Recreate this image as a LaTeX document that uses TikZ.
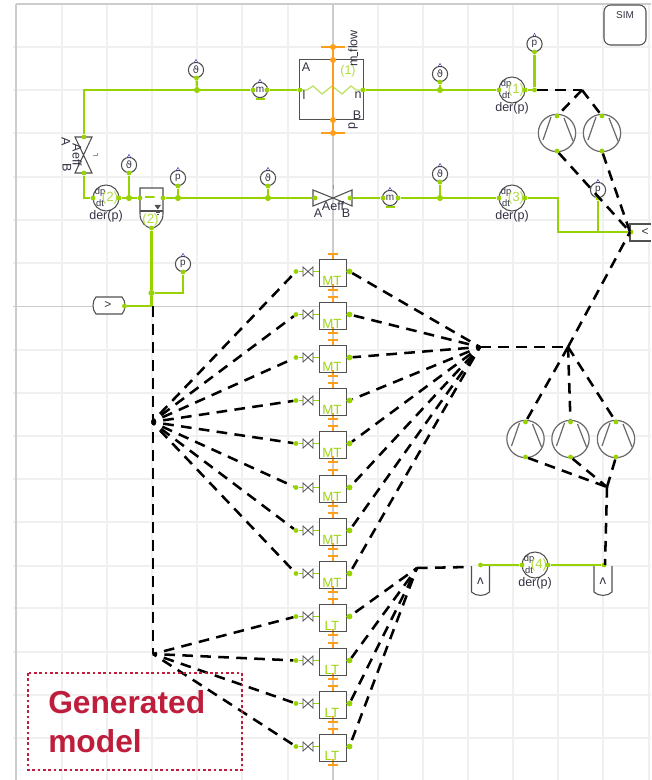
\documentclass[tikz,border=0pt]{standalone}
\usepackage{fontspec}
\usetikzlibrary{arrows.meta}
\setmainfont{Liberation Sans}
\newfontfamily\symfont{DejaVu Sans}
\definecolor{lime}{HTML}{97D300}
\definecolor{limepale}{HTML}{BFE36B}
\definecolor{flame}{HTML}{FF9E1B}
\definecolor{gridc}{HTML}{F0F0F0}
\definecolor{axisc}{HTML}{CCCCCC}
\definecolor{shapec}{HTML}{505050}
\definecolor{textc}{HTML}{333344}
\definecolor{crim}{HTML}{BE1E3C}
\definecolor{sensorblue}{HTML}{1A1AA0}
\tikzset{
  dotnode/.style={circle,fill=lime,draw=none,inner sep=0pt,minimum size=4.6pt},
  portnode/.style={circle,fill=lime,draw=none,inner sep=0pt,minimum size=3.6pt},
  gl/.style={draw=lime,line width=1.7pt},
  gthin/.style={draw=lime,line width=1.4pt},
  dl/.style={draw=black,line width=1.9pt,dash pattern=on 8pt off 5.5pt},
  dlhub/.style={dl,dash phase=5pt},
  shp/.style={draw=shapec,line width=.8pt},
  org/.style={draw=flame,line width=1.5pt},
  gridl/.style={draw=gridc,line width=.9pt},
  axl/.style={draw=axisc,line width=.9pt},
  lab/.style={text=textc,font=\fontsize{9.4}{10}\selectfont,inner sep=0pt},
  glab/.style={text=limepale!60!lime,font=\fontsize{9.4}{10}\selectfont,inner sep=0pt},
  sens/.style={circle,draw=shapec,fill=white,line width=.8pt,minimum size=11.4pt,inner sep=0pt,text=textc,font=\fontsize{7.5}{8}\selectfont},
  der/.style={circle,draw=shapec,fill=white,line width=.8pt,minimum size=19.5pt,inner sep=0pt},
  comp/.style={circle,draw=shapec!85,fill=white,line width=.9pt,minimum size=28pt,inner sep=0pt},
  blocktext/.style={text=textc,font=\fontsize{9}{10}\selectfont,inner sep=0pt},
}
% sensor: name, x, y, label
\newcommand{\sensorat}[4]{%
  \node[sens] (#1) at (#2,#3) {#4};
  \fill[sensorblue] (#2-2,#3-7.5) -- (#2+2,#3-7.5) -- (#2,#3-11) -- cycle;
  \fill[white] (#2-1,#3-8) -- (#2+1,#3-8) -- (#2,#3-10) -- cycle;
}
% der block: name, x, y, number
\newcommand{\derat}[4]{%
  \node[der] (#1) at (#2,#3) {};
  \node[lab,font=\fontsize{7}{8}\selectfont] at (#2-6,#3-6) {dp};
  \node[lab,font=\fontsize{7}{8}\selectfont] at (#2-6,#3+5.5) {dt};
  \node[glab,font=\fontsize{10}{11}\selectfont] at (#2+4,#3) {(#4)};
  \node[lab] at (#2,#3+18.5) {der(p)};
  \node[portnode] (#1w) at (#2-13,#3) {};
  \node[portnode] (#1e) at (#2+13,#3) {};
}
% compressor: name, x, cy
\newcommand{\compat}[3]{%
  \node[comp] (#1) at (#2,#3) {};
  \draw[shapec!85,line width=.9pt] (#2-6,#3-16) -- (#2-14,#3+7) (#2+7,#3-15) -- (#2+16,#3+8);
  \node[portnode] (#1t) at (#2,#3-17) {};
  \node[portnode] (#1b) at (#2,#3+18) {};
}
\begin{document}
\begin{tikzpicture}[x=.75pt,y=-.75pt]
\useasboundingbox (0,0) rectangle (651,780);
\fill[white] (0,0) rectangle (651,780);
% grid
\foreach \gx in {62,107,152,197,242,288,378,423,468,513,558,603,649}
  \draw[gridl] (\gx,4) -- (\gx,780);
\foreach \gy in {47,90,133,177,220,263,350,393,436,479,522,566,608,652,695,738}
  \draw[gridl] (13,\gy) -- (651,\gy);
\draw[axl] (16,4) -- (16,780);
\draw[axl] (16,4) -- (651,4);
\draw[axl] (13,306.5) -- (651,306.5);
\draw[axl] (333,4) -- (333,780);
% SIM
\node[draw=shapec,line width=.8pt,rounded corners=5pt,fill=white,minimum width=31.5pt,minimum height=30pt,inner sep=0pt] (sim) at (625,25) {};
\node[lab,font=\fontsize{7.5}{8}\selectfont] (simt) at (625,15) {SIM};
% heat exchanger
\node[draw=shapec,line width=.7pt,fill=white,minimum width=48pt,minimum height=45.7pt,inner sep=0pt] (hx) at (331,89.5) {};
\draw[limepale,line width=1pt] (299,90) -- (307,90) -- (313,86) -- (322,94) -- (332,86) -- (342,94) -- (351,86) -- (356,90) -- (363,90);
\coordinate (hxtop) at (333,47);
\coordinate (hxbot) at (333,133);
\draw[flame,line width=1pt] (hxtop) -- (hxbot);
\draw[org] (321,47) -- (345,47);
\draw[org] (321,133) -- (345,133);
\foreach \oy in {47,60,120,133} \fill[flame] (333,\oy) circle (3);
\node[lab] (hxa) at (306,67) {A};
\node[lab] (hxb) at (357,115) {B};
\node[lab] (hxl) at (304,95) {l};
\node[lab] (hxn) at (358,95) {n};
\node[glab] (hxn1) at (348,71) {(1)};
\node[lab,rotate=90,anchor=west] (hxf) at (353,67) {m\rule{3pt}{.4pt}flow};
\node[lab,rotate=90,anchor=west] (hxp) at (353,130) {p};
\node[portnode] (hxw) at (300,90) {};
\node[portnode] (hxe) at (363,90) {};
% valve vertical
\draw[shp,fill=white] (75,137) -- (92,137) -- (83.5,155) -- cycle;
\draw[shp,fill=white] (75,173) -- (92,173) -- (83.5,155) -- cycle;
\draw[shapec!60,line width=.5pt] (93,155) -- (97,155) (97,153.5) -- (97,156.5);
\node[portnode] (va) at (84,137) {};
\node[portnode] (vb) at (84,173) {};
\node[lab,rotate=-90] (vat) at (66,142) {A};
\node[lab,rotate=-90] (vaeff) at (77,155) {Aeff};
\node[lab,rotate=-90] (vbt) at (67,168) {B};
% valve horizontal
\draw[shp,fill=white] (313,190) -- (313,206) -- (333,198) -- cycle;
\draw[shp,fill=white] (352,190) -- (352,206) -- (333,198) -- cycle;
\draw[shapec!60,line width=.5pt] (333,185) -- (333,189);
\node[portnode] (ha) at (315,198) {};
\node[portnode] (hb) at (350,198) {};
\node[lab] (haeff) at (333,206) {Aeff};
\node[lab] (hat) at (318,213) {A};
\node[lab] (hbt) at (346,213) {B};
% tank
\draw[shp,fill=white] (140,188) -- (163,188) -- (163,214) .. controls (163,222) and (157,228) .. (151.5,228) .. controls (146,228) and (140,222) .. (140,214) -- cycle;
\draw[shp] (140,211) -- (163,211);
\draw[lime,line width=.8pt,-{Latex[length=2.5pt]}] (145,197) -- (156,197);
\fill[shapec] (154.5,205) -- (161,205) -- (157.7,209.5) -- cycle;
\draw[shapec,line width=.5pt] (156,212.5) -- (160,212.5) (157,214.5) -- (159,214.5);
\node[glab,font=\fontsize{10}{11}\selectfont] (tankn) at (150.5,220) {(2)};
\node[portnode] (tw) at (140,198) {};
\node[portnode] (te) at (163,198) {};
\node[portnode] (tb) at (151.5,228) {};
% der blocks
\derat{d1}{512}{90}{1}
\derat{d2}{106}{198}{2}
\derat{d3}{512}{198}{3}
\derat{d4}{535}{565}{4}
% sensors
\sensorat{s1}{196}{70}{\symfont ϑ}
\sensorat{s2}{129}{165}{\symfont ϑ}
\sensorat{s3}{178}{178}{p}
\sensorat{s4}{268}{178}{\symfont ϑ}
\sensorat{s5}{440}{74}{\symfont ϑ}
\sensorat{s6}{440}{174}{\symfont ϑ}
\sensorat{s7}{534.5}{44}{p}
\sensorat{s8}{598}{190}{p}
\sensorat{s9}{183}{264}{p}
\sensorat{m1}{260}{90}{m}
\sensorat{m2}{390}{198}{m}
\draw[lime,line width=1.2pt] (256,99) -- (265,99);
\draw[lime,line width=1.2pt] (386,207) -- (395,207);
\foreach \n/\x/\y in {s1d/196.5/78,s2d/129/173,s3d/178/186,s4d/268/186,s5d/440/82,s6d/440/182,s7d/534.5/52,s8d/598/198,s9d/183/272}
  \node[portnode] (\n) at (\x,\y) {};
\node[portnode] (m1w) at (253,90) {};
\node[portnode] (m1e) at (267,90) {};
\node[portnode] (m2w) at (383,198) {};
\node[portnode] (m2e) at (398,198) {};
% junctions
\node[dotnode] (j1) at (197,90) {};
\node[dotnode] (j2) at (440,90) {};
\node[dotnode] (j3) at (129,198) {};
\node[dotnode] (j4) at (178,198) {};
\node[dotnode] (j5) at (268,198) {};
\node[dotnode] (j6) at (440,198) {};
\node[dotnode] (j7) at (151.5,293) {};
\node[portnode] (j8) at (534.5,90) {};
\coordinate (c1) at (84,90);
\coordinate (c2) at (84,198);
\coordinate (c3) at (558,198);
\coordinate (c4) at (558,232);
\coordinate (c5) at (598,232);
\coordinate (c6) at (183,293);
\coordinate (c7) at (151.5,306);
% boundary blocks
\draw[shp,fill=white] (96,297) -- (122,297) .. controls (126,301) and (126,310) .. (122,314) -- (96,314) .. controls (92,310) and (92,301) .. (96,297) -- cycle;
\node[blocktext] (bl) at (108,305.5) {>};
\node[portnode] (blp) at (124.5,306) {};
\draw[shp,fill=white] (651,224) -- (630,224) -- (630,241) -- (651,241);
\node[blocktext] (br) at (645,232.5) {<};
\node[portnode] (brp) at (631,232) {};
\foreach \bx/\bn in {480.5/b1,603/b2}{
  \draw[shp,fill=white] (\bx-9,566) -- (\bx-9,592) .. controls (\bx-5,596.5) and (\bx+5,596.5) .. (\bx+9,592) -- (\bx+9,566);
  \node[blocktext] (\bn) at (\bx,581) {\symfont ʌ};
}
\node[portnode] (b1p) at (480.5,565) {};
\node[portnode] (b2p) at (604,565) {};
% green connectors
\draw[gl] (va) -- (c1) -- (j1) -- (m1w);
\draw[gl] (m1e) -- (hxw);
\draw[gl] (hxe) -- (j2) -- (d1w);
\draw[gl] (d1e) -- (j8) -- (s7d);
\draw[gl] (j1) -- (s1d);
\draw[gl] (j2) -- (s5d);
\draw[gl] (vb) -- (c2) -- (d2w);
\draw[gl] (d2e) -- (j3) -- (tw);
\draw[gl] (j3) -- (s2d);
\draw[gl] (te) -- (j4) -- (j5) -- (ha);
\draw[gl] (j4) -- (s3d);
\draw[gl] (j5) -- (s4d);
\draw[gl] (hb) -- (m2w);
\draw[gl] (m2e) -- (j6) -- (d3w);
\draw[gl] (j6) -- (s6d);
\draw[gl] (d3e) -- (c3) -- (c4) -- (brp);
\draw[gl] (s8d) -- (c5);
\draw[gl] (tb) -- (j7) -- (c7) -- (blp);
\draw[gl] (j7) -- (c6) -- (s9d);
\draw[gl] (b1p) -- (d4w);
\draw[gl] (d4e) -- (b2p);
% compressors
\compat{cu1}{557}{133}
\compat{cu2}{602}{133}
\compat{cl1}{525.5}{439}
\compat{cl2}{570.5}{439}
\compat{cl3}{616}{439}
% modules
\foreach \i/\ty/\tl in {1/259/MT,2/302/MT,3/345/MT,4/388/MT,5/431/MT,6/475/MT,7/518/MT,8/561/MT,9/604/LT,10/648/LT,11/691/LT,12/734/LT}{
  \draw[org,line width=1pt] (333,\ty-5) -- (333,\ty) (333,\ty+27) -- (333,\ty+31);
  \draw[org] (328,\ty-5) -- (338,\ty-5);
  \draw[org] (328,\ty+31) -- (338,\ty+31);
  \node[draw=shapec,line width=1pt,fill=white,minimum width=20pt,minimum height=20pt,inner sep=0pt,anchor=north west] (mod\i) at (319,\ty) {};
  \draw[org,line width=1pt] (333,\ty+25) -- (333,\ty+27);
  \node[text=lime!85!limepale,font=\fontsize{10}{11}\selectfont,inner sep=0pt] (modt\i) at (332,\ty+21.5) {\tl};
  \node[portnode,minimum size=4.4pt] (pr\i) at (349.5,\ty+12.5) {};
  \node[portnode] (pl\i) at (296,\ty+12.5) {};
  \draw[gthin] (pl\i) -- (319,\ty+12.5);
  \draw[gthin] (346,\ty+12.5) -- (pr\i);
  \draw[shapec,line width=.6pt,fill=white] (303,\ty+8) -- (303,\ty+17) -- (308,\ty+12.5) -- cycle;
  \draw[shapec,line width=.6pt,fill=white] (313,\ty+8) -- (313,\ty+17) -- (308,\ty+12.5) -- cycle;
}
% hubs
\coordinate (hl1) at (152,422);
\coordinate (hl2) at (153,654);
\coordinate (hr1) at (480,347);
\coordinate (hr2) at (417,568);
\coordinate (hub3) at (568,347);
\coordinate (hub4) at (630,232);
\coordinate (hub5) at (582,90);
\coordinate (hub6) at (607,487);
\coordinate (st1) at (153,306);
\coordinate (st2) at (537,90);
\coordinate (st3) at (470,567);
\coordinate (st4) at (605,565);
% dashed connectors
\draw[dl] (st1) -- (hl2);
\foreach \i in {1,...,8} {\draw[dlhub] (hl1) -- (pl\i); \draw[dlhub] (hr1) -- (pr\i);}
\foreach \i in {9,...,12} {\draw[dlhub] (hl2) -- (pl\i); \draw[dlhub] (hr2) -- (pr\i);}
\draw[dl] (hr2) -- (st3);
\draw[dl] (hr1) -- (hub3);
\draw[dl] (hub3) -- (hub4);
\draw[dl] (st2) -- (hub5);
\draw[dl] (hub5) -- (cu1t);
\draw[dl] (hub5) -- (cu2t);
\draw[dl] (cu1b) -- (hub4);
\draw[dl] (cu2b) -- (hub4);
\draw[dl] (hub3) -- (cl1t);
\draw[dl] (hub3) -- (cl2t);
\draw[dl] (hub3) -- (cl3t);
\draw[dl] (cl1b) -- (hub6);
\draw[dl] (cl2b) -- (hub6);
\draw[dl] (cl3b) -- (hub6);
\draw[dl] (hub6) -- (st4);
% generated model
\draw[crim,line width=2pt,dash pattern=on 2pt off 2pt] (28,673) rectangle (242,770);
\node[text=crim,font=\fontsize{23.8}{29}\bfseries\selectfont,anchor=base west,inner sep=0pt] (gen1) at (48,713) {Generated};
\node[text=crim,font=\fontsize{23.8}{29}\bfseries\selectfont,anchor=base west,inner sep=0pt] (gen2) at (48,752) {model};
\end{tikzpicture}
\end{document}
